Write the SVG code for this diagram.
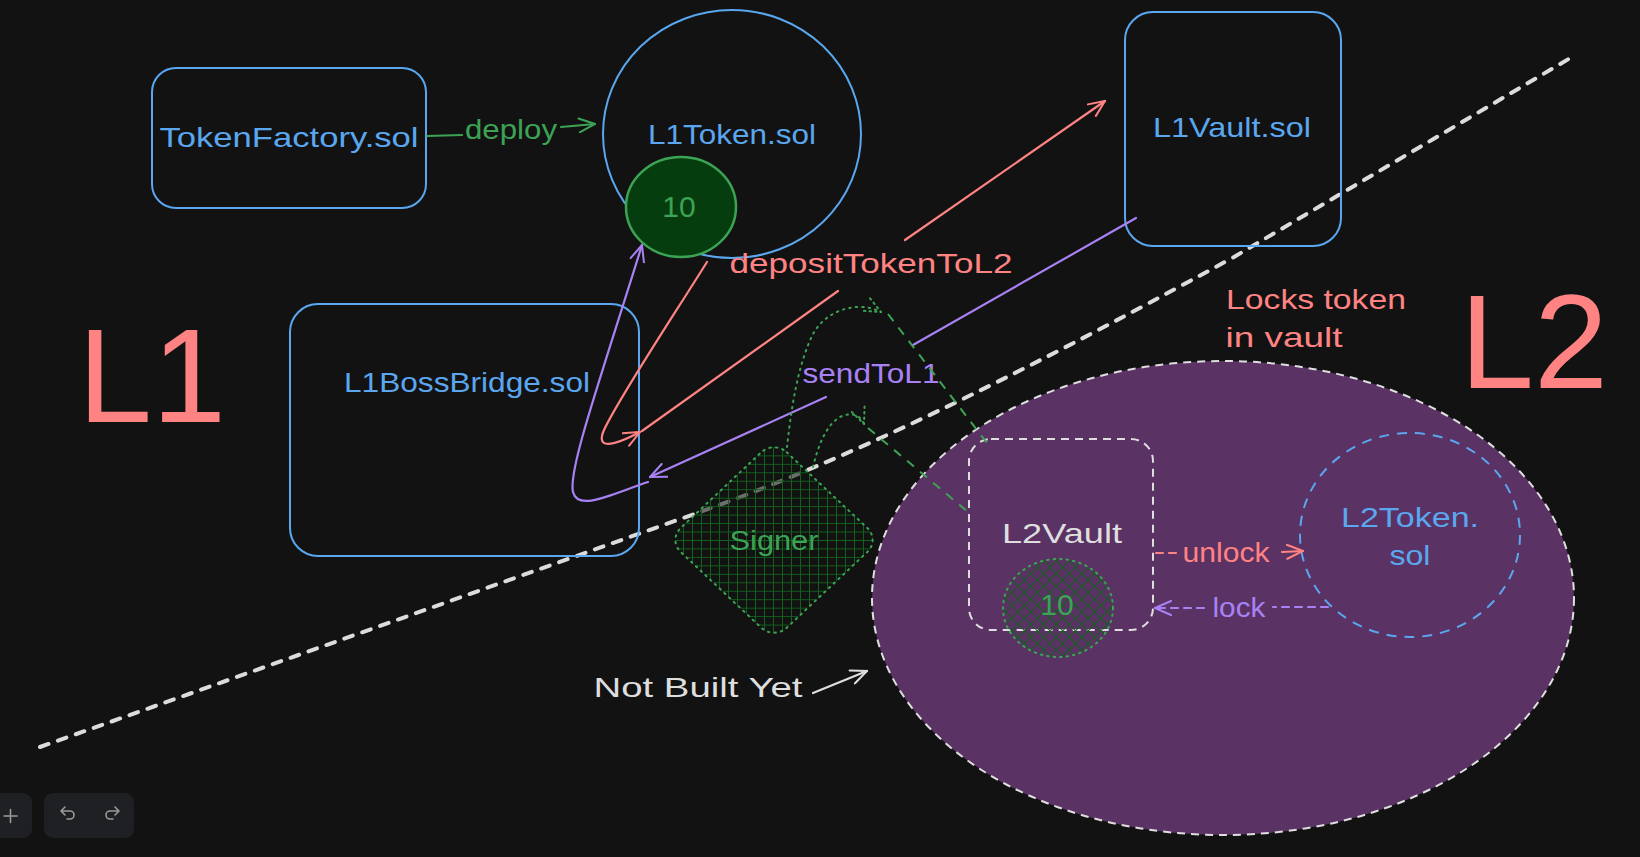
<svg xmlns="http://www.w3.org/2000/svg" width="1640" height="857" viewBox="0 0 1640 857">
<style>
text{font-family:"Liberation Sans",Arial,sans-serif;text-anchor:middle}
.lbl{font-size:28px}
.blue{fill:#5aa7ef}
.sal{fill:#ff8383}
.grn{fill:#3da354}
.pur{fill:#a882f4}
.wht{fill:#dedede}
.box{fill:none;stroke:#5aa7ef;stroke-width:2}
.big{font-size:133px;fill:#ff8383;text-anchor:start}
.ln{fill:none;stroke-width:2.2;stroke-linecap:round;stroke-linejoin:round}
.dot{fill:none;stroke:#3da354;stroke-width:2;stroke-dasharray:1.5 5;stroke-linecap:round}
.dsh{fill:none;stroke:#3da354;stroke-width:2;stroke-dasharray:9 8}
.tb{fill:#1f2024}
.ic{fill:none;stroke:#9a9a9a;stroke-width:1.6;stroke-linecap:round;stroke-linejoin:round}
</style>
<defs>
<pattern id="hatch" width="9" height="9" patternUnits="userSpaceOnUse" patternTransform="rotate(45)">
<path d="M0,0 V9 M0,0 H9" stroke="#11601d" stroke-width="2"/>
</pattern>
<marker id="mG" viewBox="0 0 18 16" refX="17" refY="8" markerWidth="18" markerHeight="16" markerUnits="userSpaceOnUse" orient="auto">
<path d="M1,1 L17,8 L1,15" fill="none" stroke="#3da354" stroke-width="2" stroke-linecap="round"/>
</marker>
<marker id="mGd" viewBox="0 0 18 16" refX="17" refY="8" markerWidth="18" markerHeight="16" markerUnits="userSpaceOnUse" orient="auto">
<path d="M1,1 L17,8 L1,15" fill="none" stroke="#3da354" stroke-width="2" stroke-dasharray="1.5 4" stroke-linecap="round"/>
</marker>
<marker id="mS" viewBox="0 0 18 16" refX="17" refY="8" markerWidth="18" markerHeight="16" markerUnits="userSpaceOnUse" orient="auto">
<path d="M1,1 L17,8 L1,15" fill="none" stroke="#ff8383" stroke-width="2" stroke-linecap="round"/>
</marker>
<marker id="mP" viewBox="0 0 18 16" refX="17" refY="8" markerWidth="18" markerHeight="16" markerUnits="userSpaceOnUse" orient="auto">
<path d="M1,1 L17,8 L1,15" fill="none" stroke="#a882f4" stroke-width="2" stroke-linecap="round"/>
</marker>
<marker id="mW" viewBox="0 0 18 16" refX="17" refY="8" markerWidth="18" markerHeight="16" markerUnits="userSpaceOnUse" orient="auto">
<path d="M1,1 L17,8 L1,15" fill="none" stroke="#dedede" stroke-width="2" stroke-linecap="round"/>
</marker>
</defs>
<rect width="1640" height="857" fill="#121212"/>

<g id="divider">
<path d="M40,747 L700,512 C850,458 1000,385 1234,257 L1572,57" fill="none" stroke="#dcdcdc" stroke-width="4" stroke-dasharray="9 10" stroke-linecap="round"/>
</g>

<g id="label-L1"><text class="big" x="78" y="422">L1</text></g>
<g id="label-L2"><text class="big" x="1460" y="388">L2</text></g>

<g id="l2-region">
<ellipse cx="1223" cy="598" rx="351" ry="237" fill="#5a3264" stroke="#dedede" stroke-width="2" stroke-dasharray="8 6"/>
</g>

<g id="token-factory">
<rect class="box" x="152" y="68" width="274" height="140" rx="24"/>
<text class="lbl blue" x="289" y="147" textLength="259" lengthAdjust="spacingAndGlyphs">TokenFactory.sol</text>
</g>

<g id="l1-token">
<ellipse class="box" cx="732" cy="134" rx="129" ry="124"/>
<text class="lbl blue" x="732" y="144" textLength="168" lengthAdjust="spacingAndGlyphs">L1Token.sol</text>
</g>

<g id="l1-token-balance">
<ellipse cx="681" cy="207" rx="55" ry="50" fill="#053d0e" stroke="#3da354" stroke-width="2.5"/>
<text class="lbl grn" x="679" y="217" style="font-size:30px">10</text>
</g>

<g id="l1-vault">
<rect class="box" x="1125" y="12" width="216" height="234" rx="28"/>
<text class="lbl blue" x="1232" y="137" textLength="158" lengthAdjust="spacingAndGlyphs">L1Vault.sol</text>
</g>

<g id="l1-boss-bridge">
<rect class="box" x="290" y="304" width="349" height="252" rx="28"/>
<text class="lbl blue" x="467" y="392" textLength="246" lengthAdjust="spacingAndGlyphs">L1BossBridge.sol</text>
</g>

<g id="signer">
<g transform="translate(774,540) scale(1,0.94) rotate(45)">
<rect x="-75" y="-75" width="150" height="150" rx="18" fill="#121212" fill-opacity="0.55"/>
<rect x="-75" y="-75" width="150" height="150" rx="18" fill="url(#hatch)" stroke="#3da354" stroke-width="2" stroke-dasharray="1.5 5" stroke-linecap="round" vector-effect="non-scaling-stroke"/>
</g>
<text class="lbl grn" x="774" y="550" textLength="89" lengthAdjust="spacingAndGlyphs">Signer</text>
</g>

<g id="l2-vault">
<rect x="969" y="439" width="184" height="191" rx="22" fill="none" stroke="#dedede" stroke-width="2" stroke-dasharray="8 6"/>
<text class="lbl wht" x="1062" y="543" textLength="120" lengthAdjust="spacingAndGlyphs">L2Vault</text>
</g>

<g id="l2-vault-balance">
<ellipse cx="1058" cy="608" rx="55" ry="49" fill="url(#hatch)" stroke="#3da354" stroke-width="2" stroke-dasharray="1.5 5" stroke-linecap="round"/>
<text class="lbl grn" x="1057" y="615" style="font-size:30px">10</text>
</g>

<g id="l2-token">
<ellipse cx="1410" cy="535" rx="110" ry="102" fill="none" stroke="#5aa7ef" stroke-width="2" stroke-dasharray="10 8"/>
<text class="lbl blue" x="1410" y="527" textLength="138" lengthAdjust="spacingAndGlyphs">L2Token.</text>
<text class="lbl blue" x="1410" y="565" textLength="41" lengthAdjust="spacingAndGlyphs">sol</text>
</g>

<g id="note-locks">
<text class="lbl sal" x="1316" y="309" textLength="180" lengthAdjust="spacingAndGlyphs">Locks token</text>
<text class="lbl sal" x="1284" y="347" textLength="117" lengthAdjust="spacingAndGlyphs">in vault</text>
</g>

<g id="note-not-built">
<text class="lbl wht" x="698" y="697" textLength="209" lengthAdjust="spacingAndGlyphs">Not Built Yet</text>
</g>

<g id="connectors">
<path class="ln" d="M427,136 L462,135" stroke="#3da354"/>
<path class="ln" d="M561,127 L595,124" stroke="#3da354" marker-end="url(#mG)"/>
<text class="lbl grn" x="511" y="139" textLength="92" lengthAdjust="spacingAndGlyphs">deploy</text>
<path class="ln" d="M642,431 L838,291" stroke="#ff8383"/>
<path class="ln" d="M905,240 L1105,101" stroke="#ff8383" marker-end="url(#mS)"/>
<text class="lbl sal" x="871" y="273" textLength="283" lengthAdjust="spacingAndGlyphs">depositTokenToL2</text>
<path class="ln" d="M707,262 C672,318 620,396 604,430 C597,446 606,450 640,432" stroke="#ff8383" marker-end="url(#mS)"/>
<path class="ln" d="M1136,218 L913,345" stroke="#a882f4"/>
<path class="ln" d="M826,397 L650,477" stroke="#a882f4" marker-end="url(#mP)"/>
<text class="lbl pur" x="871" y="383" textLength="137" lengthAdjust="spacingAndGlyphs">sendToL1</text>
<path class="ln" d="M648,482 C612,494 578,512 573,492 C568,470 600,380 642,245" stroke="#a882f4" marker-end="url(#mP)"/>
<path class="dot" d="M787,447 C790,420 796,368 813,334 C826,310 858,300 881,312" marker-end="url(#mGd)"/>
<path class="dsh" d="M888,314 L987,443"/>
<path class="dot" d="M813,467 C818,446 826,425 840,417 C850,412 860,414 864,424" marker-end="url(#mGd)"/>
<path class="dsh" d="M868,428 L968,512"/>
<path class="ln" d="M1156,553 L1180,553" stroke="#ff8383" stroke-dasharray="7 6"/>
<path class="ln" d="M1282,552 L1303,551" stroke="#ff8383" marker-end="url(#mS)"/>
<text class="lbl sal" x="1226" y="562" textLength="87" lengthAdjust="spacingAndGlyphs">unlock</text>
<path class="ln" d="M1328,607 L1273,607" stroke="#a882f4" stroke-dasharray="7 6"/>
<path class="ln" d="M1204,608 L1155,608" stroke="#a882f4" stroke-dasharray="7 6" marker-end="url(#mP)"/>
<text class="lbl pur" x="1239" y="617" textLength="53" lengthAdjust="spacingAndGlyphs">lock</text>
<path class="ln" d="M813,693 L867,671" stroke="#dedede" marker-end="url(#mW)"/>
</g>

<g id="toolbar">
<rect class="tb" x="-12" y="793" width="44" height="45" rx="9"/>
<path class="ic" d="M4,816 H17 M10.5,809.5 V822.5"/>
<rect class="tb" x="44" y="793" width="90" height="45" rx="9"/>
<path class="ic" d="M65,807 L61,811 L65,815 M61,811 H70 A4,4 0 0 1 70,819 H67"/>
<path class="ic" d="M115,807 L119,811 L115,815 M119,811 H110 A4,4 0 0 0 110,819 H113"/>
</g>
</svg>
